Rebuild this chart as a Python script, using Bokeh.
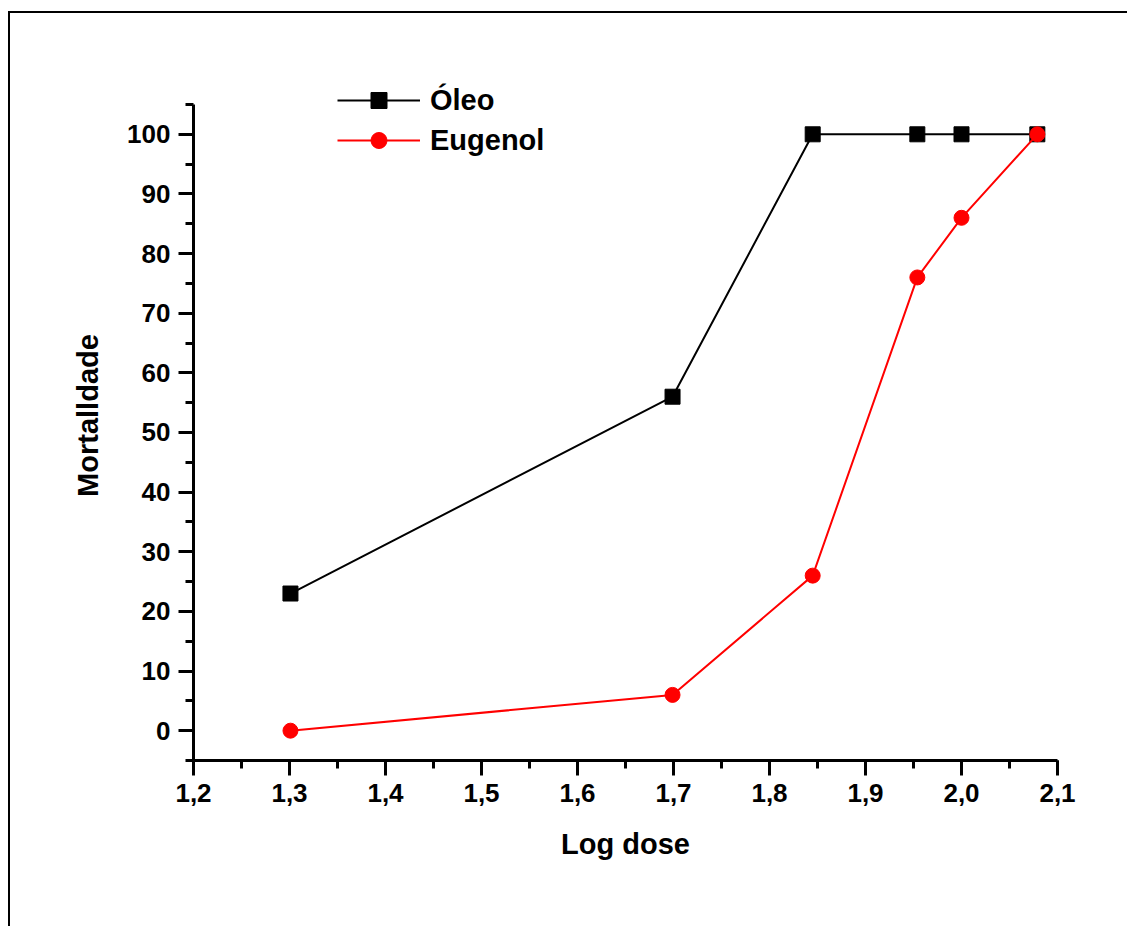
from bokeh.plotting import figure
from bokeh.models import (Legend, LegendItem, SingleIntervalTicker, CustomJSTickFormatter,
                          Range1d)
from bokeh.embed import file_html
from bokeh.resources import INLINE

# data
log_dose = [1.301, 1.699, 1.845, 1.954, 2.0, 2.079]
oleo = [23, 56, 100, 100, 100, 100]
eugenol = [0, 6, 26, 76, 86, 100]
series_names = ["Óleo", "Eugenol"]
x_label = "Log dose"
y_label = "Mortalldade"

FONT = "Liberation Sans"

p = figure(width=1119, height=915, output_backend="svg", toolbar_location=None,
           x_range=Range1d(1.2, 2.1), y_range=Range1d(-5, 110.7),
           min_border_left=183, min_border_right=72, min_border_top=57,
           min_border_bottom=168)
p.styles = {"border-top": "2px solid black", "border-left": "2px solid black",
            "margin-top": "11px", "margin-left": "8px"}

p.xgrid.visible = False
p.ygrid.visible = False
p.outline_line_color = None
p.background_fill_color = "white"
p.border_fill_color = "white"

l1 = p.line(log_dose, oleo, line_color="black", line_width=2)
m1 = p.scatter(log_dose, oleo, marker="square", size=15, fill_color="black",
               line_color="black")
l2 = p.line(log_dose, eugenol, line_color="red", line_width=2)
m2 = p.scatter(log_dose, eugenol, marker="circle", size=15, fill_color="red",
               line_color="red")

p.xaxis.ticker = SingleIntervalTicker(interval=0.1, num_minor_ticks=2)
p.yaxis.ticker = SingleIntervalTicker(interval=10, num_minor_ticks=2)
p.yaxis.bounds = (-5, 105)
p.xaxis.formatter = CustomJSTickFormatter(code="return tick.toFixed(1).replace('.', ',');")
p.yaxis.formatter = CustomJSTickFormatter(code="return tick.toFixed(0);")

for ax in (p.xaxis, p.yaxis):
    ax.axis_line_width = 3
    ax.axis_line_color = "black"
    ax.major_tick_line_width = 3
    ax.minor_tick_line_width = 3
    ax.major_tick_in = 0
    ax.minor_tick_in = 0
    ax.major_tick_out = 15
    ax.minor_tick_out = 8
    ax.major_label_text_font = FONT
    ax.major_label_text_font_style = "bold"
    ax.major_label_text_font_size = "26px"
    ax.major_label_text_color = "black"
    ax.axis_label_text_font = FONT
    ax.axis_label_text_font_style = "bold"
    ax.axis_label_text_font_size = "29px"
    ax.axis_label_text_color = "black"

p.xaxis.axis_label = x_label
p.yaxis.axis_label = y_label
p.xaxis.major_label_standoff = 8
p.yaxis.major_label_standoff = 8
p.xaxis.axis_label_standoff = 23
p.yaxis.axis_label_standoff = 20

legend = Legend(items=[LegendItem(label=series_names[0], renderers=[l1, m1]),
                       LegendItem(label=series_names[1], renderers=[l2, m2])],
                location=(144, 600))
legend.glyph_width = 83
legend.glyph_height = 40
legend.spacing = 0
legend.padding = 0
legend.margin = 0
legend.label_standoff = 10
legend.border_line_color = None
legend.background_fill_alpha = 0
legend.label_text_font = FONT
legend.label_text_font_style = "bold"
legend.label_text_font_size = "29px"
legend.label_text_color = "black"
p.add_layout(legend, "center")

open("out.html", "w").write(file_html(p, INLINE))
